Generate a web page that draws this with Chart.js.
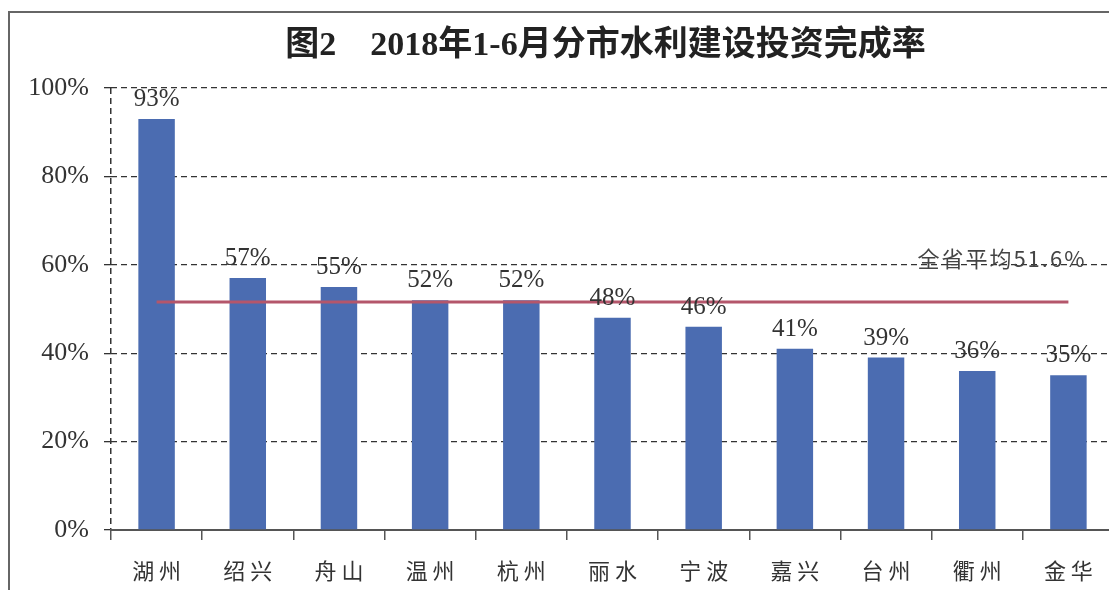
<!DOCTYPE html>
<html>
<head>
<meta charset="utf-8">
<script src="https://cdn.jsdelivr.net/npm/chart.js@4/dist/chart.umd.min.js"></script>
<style>
  html, body { margin: 0; padding: 0; background: #fff; overflow: hidden; }
  #wrap { position: relative; width: 1109px; height: 590px; overflow: hidden; }
  #frame { position: absolute; left: 8px; top: 11px; width: 1200px; height: 700px;
           border-left: 2px solid #666; border-top: 2px solid #666; }
  #box { position: absolute; left: 0; top: 0; width: 1120px; height: 590px; }
</style>
</head>
<body>
<div id="wrap">
  <div id="frame"></div>
  <div id="box"><canvas id="myChart"></canvas></div>
</div>
<script>
const chart_title = '图2　2018年1-6月分市水利建设投资完成率';
const city_labels = ['湖州', '绍兴', '舟山', '温州', '杭州', '丽水', '宁波', '嘉兴', '台州', '衢州', '金华'];
const rate_values = [93, 57, 55, 52, 52, 48, 46, 41, 39, 36, 35];
const avg_value = 51.6;
const avg_label = '全省平均51.6%';
const y_ticks = [0, 20, 40, 60, 80, 100];

const serif = "'Liberation Serif', 'Noto Sans CJK SC', serif";
const cjk = "'Noto Sans CJK SC', sans-serif";

// title, bar value labels and the average note
const extra_text = {
    id: 'extra_text',
    afterDatasetsDraw(chart) {
        const ctx = chart.ctx;
        const area = chart.chartArea;
        const y = chart.scales.y;
        ctx.save();
        ctx.fillStyle = '#222';
        ctx.font = "bold 34px 'Liberation Serif', 'Noto Sans CJK SC', serif";
        ctx.textAlign = 'center';
        ctx.textBaseline = 'middle';
        ctx.fillText(chart_title, (area.left + area.right) / 2 - 7, 46);

        ctx.font = '25px ' + serif;
        ctx.fillStyle = '#333';
        ctx.textBaseline = 'bottom';
        chart.getDatasetMeta(1).data.forEach(function(bar, i) {
            ctx.fillText(rate_values[i] + '%', bar.x, bar.y - 7);
        });

        const last = chart.getDatasetMeta(1).data[rate_values.length - 1];
        ctx.font = '22px ' + cjk;
        ctx.letterSpacing = '2px';
        ctx.fillStyle = '#444';
        ctx.textAlign = 'right';
        ctx.textBaseline = 'alphabetic';
        ctx.fillText(avg_label, last.x + 18, y.getPixelForValue(60) + 2);
        ctx.restore();
    }
};

const ctx = document.getElementById('myChart');
new Chart(ctx, {
    data: {
        labels: city_labels,
        datasets: [{
            type: 'line',
            label: avg_label,
            data: city_labels.map(function() { return avg_value; }),
            borderColor: '#b4566b',
            borderWidth: 3,
            pointRadius: 0,
            order: 0
        }, {
            type: 'bar',
            label: '完成率',
            data: rate_values,
            backgroundColor: '#4b6cb1',
            barPercentage: 0.4,
            categoryPercentage: 1,
            order: 1
        }]
    },
    options: {
        responsive: true,
        maintainAspectRatio: false,
        animation: false,
        layout: {
            padding: { top: 88, right: 6, left: 0, bottom: 0 }
        },
        plugins: {
            legend: { display: false },
            title: { display: false },
            tooltip: { enabled: false }
        },
        scales: {
            x: {
                afterFit: function(s) { s.height = 60; },
                grid: {
                    offset: true,
                    color: function(c) { return c.index === 0 ? '#333' : 'rgba(0,0,0,0)'; },
                    tickColor: '#555',
                    tickLength: 10,
                    lineWidth: 1.5,
                    drawOnChartArea: true
                },
                border: { display: true, color: '#555', width: 2, dash: [6, 4] },
                ticks: {
                    color: '#333',
                    padding: 17,
                    font: { family: cjk, size: 22 },
                    callback: function(value, index) {
                        return city_labels[index].split('').join(' ');
                    }
                }
            },
            y: {
                min: 0,
                max: 100,
                afterFit: function(s) { s.width = 111; },
                afterBuildTicks: function(s) {
                    s.ticks = y_ticks.map(function(v) { return { value: v }; });
                },
                grid: {
                    color: '#333',
                    lineWidth: 1.3,
                    tickLength: 7,
                    tickBorderDash: [],
                    tickColor: '#333'
                },
                border: { display: false, dash: [6, 4] },
                ticks: {
                    color: '#333',
                    padding: 15,
                    font: { family: serif, size: 26 },
                    callback: function(value) { return value + '%'; }
                }
            }
        }
    },
    plugins: [extra_text]
});
</script>
</body>
</html>
